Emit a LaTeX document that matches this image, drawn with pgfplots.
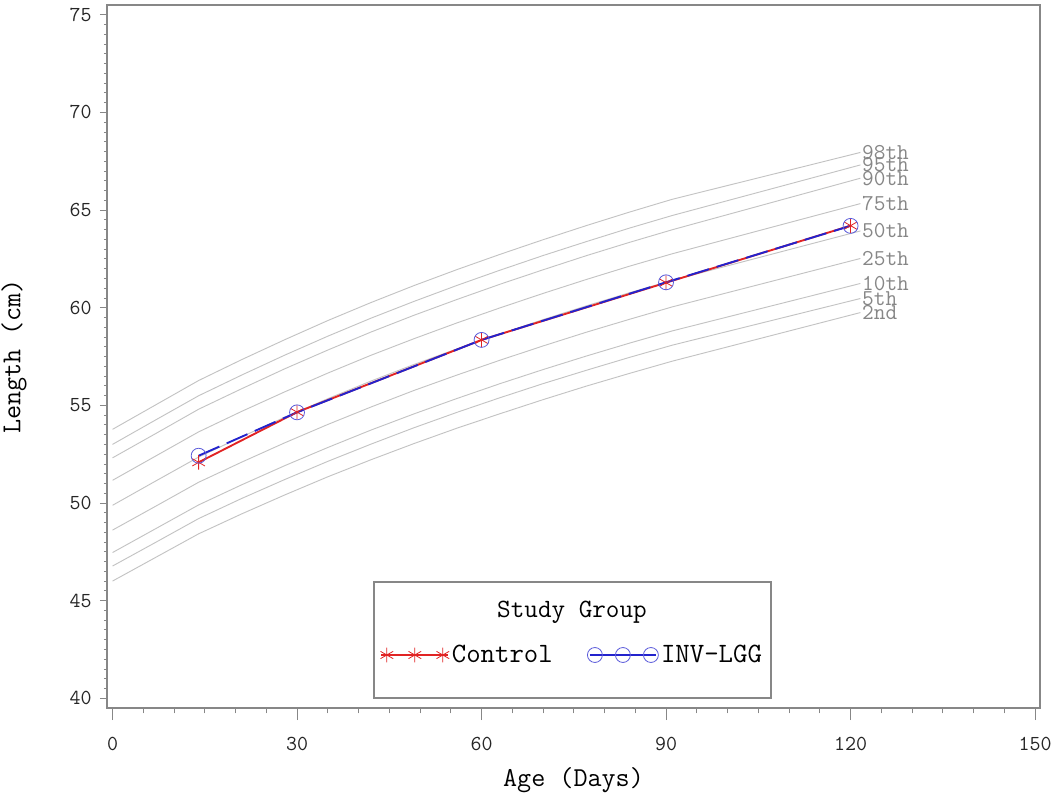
\documentclass[border=0pt]{standalone}
\usepackage{pgfplots}
\pgfplotsset{compat=1.18}
\usepackage{pgfplotstable}
\definecolor{ctrlred}{RGB}{225,35,35}
\definecolor{invblue}{RGB}{35,35,205}
\definecolor{pctgray}{RGB}{195,195,195}
\definecolor{lblgray}{RGB}{135,135,135}
\definecolor{axgray}{RGB}{135,135,135}

\pgfplotstableread{
day p2 p5 p10 p25 p50 p75 p90 p95 p98
0 46.00 46.77 47.46 48.61 49.88 51.16 52.31 53.00 53.77
7 47.21 47.98 48.68 49.83 51.12 52.40 53.55 54.25 55.02
14 48.42 49.20 49.90 51.06 52.35 53.64 54.80 55.49 56.27
21 49.44 50.23 50.93 52.09 53.39 54.69 55.85 56.55 57.34
28 50.41 51.20 51.91 53.08 54.39 55.69 56.87 57.57 58.36
35 51.34 52.13 52.84 54.02 55.34 56.65 57.83 58.54 59.34
42 52.21 53.01 53.73 54.91 56.24 57.56 58.75 59.46 60.26
49 53.04 53.85 54.56 55.76 57.09 58.41 59.61 60.32 61.13
56 53.83 54.64 55.35 56.55 57.89 59.22 60.42 61.14 61.95
63 54.57 55.39 56.11 57.31 58.65 59.99 61.20 61.92 62.73
70 55.29 56.11 56.83 58.04 59.39 60.73 61.94 62.67 63.48
77 55.98 56.79 57.52 58.74 60.09 61.44 62.66 63.38 64.20
84 56.63 57.45 58.18 59.40 60.76 62.12 63.34 64.07 64.89
91 57.26 58.08 58.81 60.04 61.40 62.76 63.99 64.72 65.55
121.6 59.75 60.47 61.24 62.52 63.93 65.33 66.63 67.31 67.95
}\pct

\pgfplotstableread{
day len
14 52.08
30 54.65
60 58.35
90 61.28
120 64.20
}\control

\pgfplotstableread{
day len
14 52.42
30 54.64
60 58.35
90 61.30
120 64.19
}\invlgg

\begin{document}
\begin{tikzpicture}
\path[use as bounding box] (-80.25pt,-69pt) rectangle (710.25pt,531pt);
\begin{axis}[
  at={(0pt,0pt)}, anchor=south west,
  scale only axis, width=699.75pt, height=527.25pt,
  xmin=-0.9, xmax=150.8, ymin=39.5, ymax=75.5,
  xtick={0,30,...,150}, ytick={40,45,...,75},
  minor x tick num=5, minor y tick num=9,
  tick align=outside, xtick pos=left, ytick pos=left,
  major tick length=9pt, minor tick length=4pt,
  ytick style={xscale=0.6},
  axis line style={axgray, line width=0.8pt},
  every tick/.style={axgray, line width=0.6pt},
  /pgf/number format/assume math mode=true,
  xticklabel style={font=\fontsize{16}{16}\selectfont\ttfamily, text=black!85, yshift=-9.5pt},
  yticklabel style={font=\fontsize{16}{16}\selectfont\ttfamily, text=black!85, xshift=1pt},
  xlabel={Age (Days)}, ylabel={Length (cm)},
  xlabel style={font=\fontsize{20.5}{20.5}\selectfont\ttfamily, at={(axis description cs:0.5,-0.1024)}, anchor=center},
  ylabel style={font=\fontsize{20.5}{20.5}\selectfont\ttfamily, at={(axis description cs:-0.0997,0.5)}, anchor=center},
  legend style={draw=none, fill=none, at={(0.499,0.0754)}, anchor=center,
    font=\fontsize{21}{21}\selectfont\ttfamily,
    /tikz/every even column/.append style={column sep=24pt}},
  legend columns=2,
  legend image code/.code={\draw[#1, solid] (-4pt,0pt) -- (46pt,0pt);
     \draw[#1, solid, only marks] plot coordinates {(0pt,0pt) (21pt,0pt) (42pt,0pt)};},
]
\addplot[pctgray, line width=0.7pt, forget plot] table[x=day,y=p2] {\pct} node[pos=1, anchor=west, inner sep=1pt, text=lblgray, font=\fontsize{17}{17}\selectfont\ttfamily] {2nd};
\addplot[pctgray, line width=0.7pt, forget plot] table[x=day,y=p5] {\pct} node[pos=1, anchor=west, inner sep=1pt, text=lblgray, font=\fontsize{17}{17}\selectfont\ttfamily] {5th};
\addplot[pctgray, line width=0.7pt, forget plot] table[x=day,y=p10] {\pct} node[pos=1, anchor=west, inner sep=1pt, text=lblgray, font=\fontsize{17}{17}\selectfont\ttfamily] {10th};
\addplot[pctgray, line width=0.7pt, forget plot] table[x=day,y=p25] {\pct} node[pos=1, anchor=west, inner sep=1pt, text=lblgray, font=\fontsize{17}{17}\selectfont\ttfamily] {25th};
\addplot[pctgray, line width=0.7pt, forget plot] table[x=day,y=p50] {\pct} node[pos=1, anchor=west, inner sep=1pt, text=lblgray, font=\fontsize{17}{17}\selectfont\ttfamily] {50th};
\addplot[pctgray, line width=0.7pt, forget plot] table[x=day,y=p75] {\pct} node[pos=1, anchor=west, inner sep=1pt, text=lblgray, font=\fontsize{17}{17}\selectfont\ttfamily] {75th};
\addplot[pctgray, line width=0.7pt, forget plot] table[x=day,y=p90] {\pct} node[pos=1, anchor=west, inner sep=1pt, text=lblgray, font=\fontsize{17}{17}\selectfont\ttfamily] {90th};
\addplot[pctgray, line width=0.7pt, forget plot] table[x=day,y=p95] {\pct} node[pos=1, anchor=west, inner sep=1pt, text=lblgray, font=\fontsize{17}{17}\selectfont\ttfamily] {95th};
\addplot[pctgray, line width=0.7pt, forget plot] table[x=day,y=p98] {\pct} node[pos=1, anchor=west, inner sep=1pt, text=lblgray, font=\fontsize{17}{17}\selectfont\ttfamily] {98th};

\addplot[ctrlred, line width=1.4pt, mark=asterisk, mark size=5.5pt, mark options={solid, line width=0.6pt}] table[x=day,y=len] {\control};
\addlegendentry{Control}
\addplot[invblue, line width=1.4pt, dash pattern=on 17pt off 6pt, mark=o, mark size=5.6pt, mark options={solid, line width=0.6pt, invblue!75}] table[x=day,y=len] {\invlgg};
\addlegendentry{INV-LGG}

\draw[axgray, line width=0.8pt] (axis description cs:0.2862,0.01422) rectangle (axis description cs:0.7117,0.1792);
\node[font=\fontsize{19.8}{19.8}\selectfont\ttfamily] at (axis description cs:0.4984,0.1366) {Study Group};
\end{axis}
\end{tikzpicture}
\end{document}
